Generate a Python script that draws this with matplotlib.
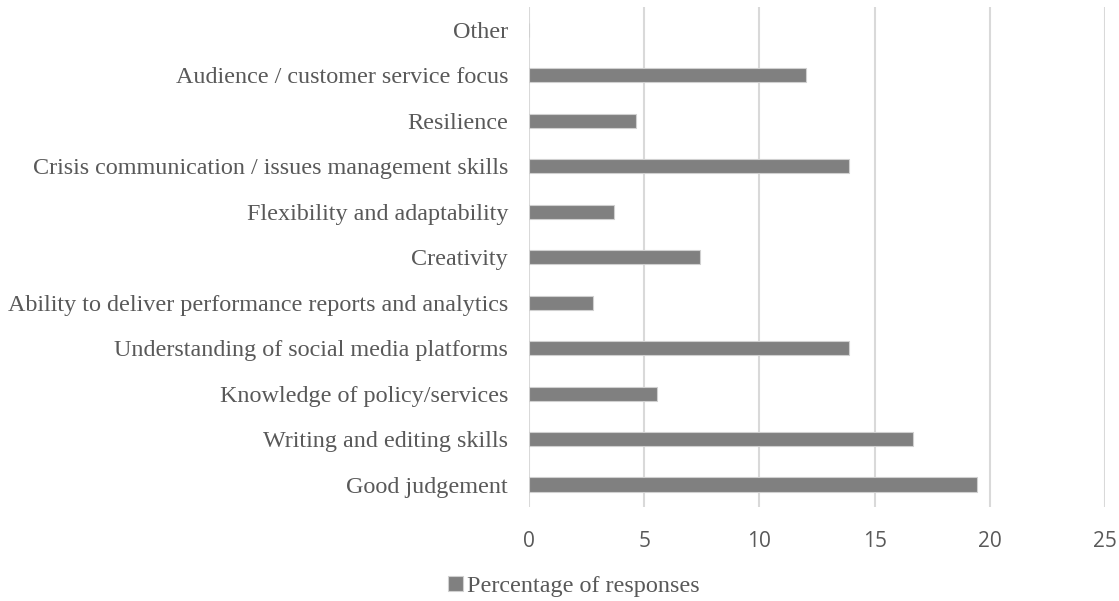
import matplotlib
matplotlib.use("Agg")
import matplotlib.pyplot as plt

categories = [
    "Good judgement",
    "Writing and editing skills",
    "Knowledge of policy/services",
    "Understanding of social media platforms",
    "Ability to deliver performance reports and analytics",
    "Creativity",
    "Flexibility and adaptability",
    "Crisis communication / issues management skills",
    "Resilience",
    "Audience / customer service focus",
    "Other",
]
percentages = [19.44, 16.67, 5.56, 13.89, 2.78, 7.41, 3.70, 13.89, 4.63, 12.04, 0.0]
x_ticks = [0, 5, 10, 15, 20, 25]

text_col = "#595959"
bar_col = "#808080"
grid_col = "#d9d9d9"

fig = plt.figure(figsize=(11.19, 6.01), dpi=100)
ax = fig.add_axes([0.4727, 0.156, 0.515, 0.832])

pos = list(range(len(categories)))
ax.barh(pos, percentages, height=0.31, color=bar_col, edgecolor="#d0d0d0",
        linewidth=0.8, label="Percentage of responses", zorder=3)

ax.set_xlim(0, 25)
ax.set_ylim(-0.5, len(categories) - 0.5)
ax.set_xticks(x_ticks)
ax.set_yticks(pos)
ax.set_yticklabels(categories, fontfamily="Liberation Serif", fontsize=17.4,
                   color=text_col)
ax.set_xticklabels([str(t) for t in x_ticks], fontfamily="Open Sans",
                   fontsize=15, color=text_col)
ax.tick_params(axis="both", length=0)
ax.tick_params(axis="y", pad=15)
ax.tick_params(axis="x", pad=17)

ax.grid(axis="x", color=grid_col, linewidth=1.5, zorder=0)
for s in ax.spines.values():
    s.set_visible(False)

leg = fig.legend(loc="lower center", bbox_to_anchor=(0.513, -0.03), frameon=False,
                 prop={"family": "Liberation Serif", "size": 17.4},
                 handlelength=0.6, handleheight=0.6, handletextpad=0.2)
for t in leg.get_texts():
    t.set_color(text_col)

fig.savefig("out.png", dpi=100)
